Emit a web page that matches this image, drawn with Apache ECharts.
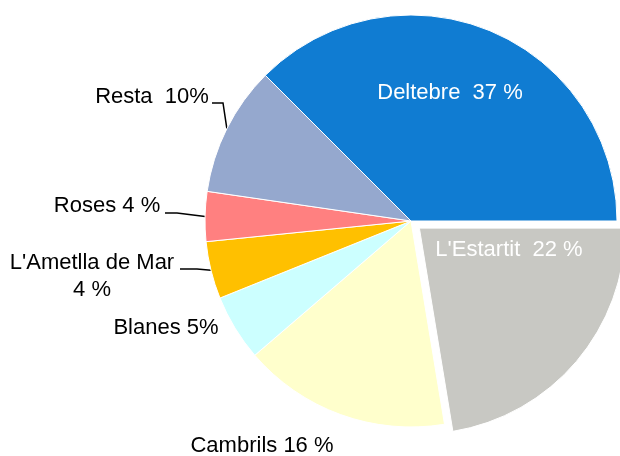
<!DOCTYPE html>
<html><head><meta charset="utf-8">
<script src="https://cdn.jsdelivr.net/npm/echarts@6/dist/echarts.min.js"></script>
<style>html,body{margin:0;padding:0;background:#fff}#c{width:620px;height:456px}</style>
</head><body><div id="c"></div>
<script>
const categories = ["Deltebre", "L'Estartit", "Cambrils", "Blanes", "L'Ametlla de Mar", "Roses", "Resta"];
const values = [37.5, 22.4, 16.3, 5.2, 4.5, 3.9, 10.2];
const labelTexts = ["Deltebre  37 %", "L'Estartit  22 %", "Cambrils 16 %", "Blanes 5%", "L'Ametlla de Mar\n4 %", "Roses 4 %", "Resta  10%"];
const colors = ['#107CD2', '#C8C8C3', '#FFFFCC', '#CCFFFF', '#FFC000', '#FF8080', '#95A8CE'];
const explodedIndex = 1;

const CX = 411, CY = 221, R = 206, START = 135, EXPLODE = 11;
// label placement (layout only)
const labelPos = [
  {x: 450, y: 93}, {x: 509, y: 250}, {x: 262, y: 446}, {x: 166, y: 328},
  {x: 92, y: 276}, {x: 107, y: 206}, {x: 152, y: 97}
];
const lineStart = {4: [[180, 269], [197, 269]], 5: [[165, 213], [177, 213]], 6: [[212, 103], [223, 103]]};

const total = values.reduce((a, b) => a + b, 0);
function midAngle(i) {
  let acc = 0;
  for (let k = 0; k < i; k++) acc += values[k];
  return (START - (acc + values[i] / 2) / total * 360) * Math.PI / 180;
}
function edgePoint(i) {
  const a = midAngle(i);
  return [CX + R * Math.cos(a), CY - R * Math.sin(a)];
}
const ea = midAngle(explodedIndex);
const CX2 = CX + EXPLODE * Math.cos(ea), CY2 = CY - EXPLODE * Math.sin(ea);

const baseLabel = {
  show: true,
  position: 'outside',
  fontFamily: 'Liberation Sans, Arial, sans-serif',
  fontSize: 22,
  color: '#000',
  formatter: p => labelTexts[p.dataIndex]
};
const layoutFn = function (p) {
  const i = p.dataIndex;
  const o = {x: labelPos[i].x, y: labelPos[i].y, align: 'center', verticalAlign: 'middle'};
  if (lineStart[i]) o.labelLinePoints = [lineStart[i][0], lineStart[i][1], edgePoint(i)];
  return o;
};

const dataMain = categories.map((name, i) => {
  const d = {name, value: values[i], itemStyle: {color: colors[i]}};
  if (i === explodedIndex) {
    d.itemStyle = {color: 'rgba(0,0,0,0)', borderWidth: 0};
    d.label = {show: false};
    d.labelLine = {show: false};
    return d;
  }
  if (i === 0) {
    d.label = {position: 'inside', color: '#fff'};
    d.labelLine = {show: false};
  } else if (i <= 3) {
    d.labelLine = {show: false};
  }
  if (i === 4) d.label = {lineHeight: 27};
  return d;
});
const dataExploded = categories.map((name, i) => {
  if (i === explodedIndex) {
    return {name, value: values[i], itemStyle: {color: colors[i]},
      label: {position: 'inside', color: '#fff'}, labelLine: {show: false}};
  }
  return {name, value: values[i], itemStyle: {color: 'rgba(0,0,0,0)', borderWidth: 0},
    label: {show: false}, labelLine: {show: false}};
});

const common = {
  type: 'pie',
  radius: R,
  startAngle: START,
  clockwise: true,
  avoidLabelOverlap: false,
  silent: true,
  emphasis: {disabled: true},
  itemStyle: {borderColor: '#fff', borderWidth: 1},
  label: baseLabel,
  labelLine: {show: true, length: 10, length2: 10, lineStyle: {color: '#000', width: 1.5}},
  labelLayout: layoutFn
};

const chart = echarts.init(document.getElementById('c'), null, {renderer: 'canvas'});
chart.setOption({
  animation: false,
  series: [
    Object.assign({}, common, {center: [CX, CY], data: dataMain}),
    Object.assign({}, common, {center: [CX2, CY2], data: dataExploded})
  ]
});
</script></body></html>
